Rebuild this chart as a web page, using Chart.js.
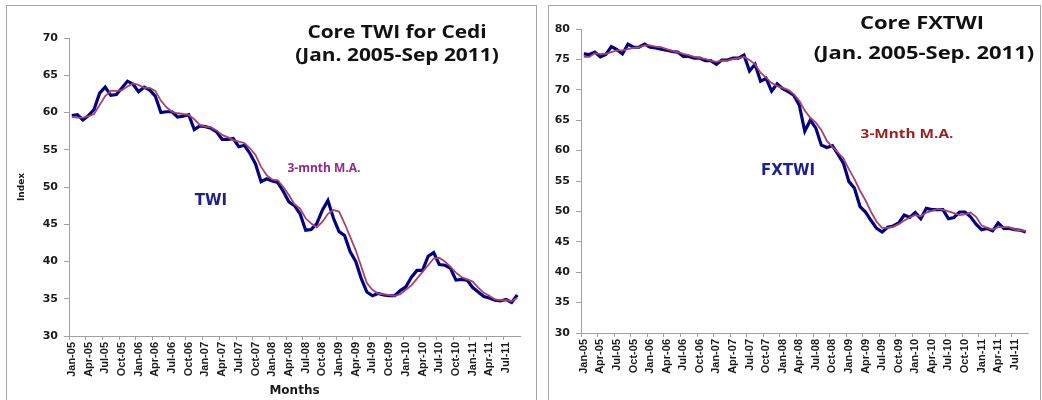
<!DOCTYPE html>
<html>
<head>
<meta charset="utf-8">
<script src="https://cdn.jsdelivr.net/npm/chart.js@4.4.1/dist/chart.umd.min.js"></script>
<style>
  html, body { margin: 0; padding: 0; background: #fff; }
  body { width: 1042px; height: 400px; position: relative; overflow: hidden; }
  .panel { position: absolute; border: 1px solid #a6a6a6; box-sizing: border-box; }
  canvas { position: absolute; }
  .lbl { position: absolute; transform: translate(-50%, -50%); white-space: nowrap; font-weight: bold; }
  .ttl { font-family: "Open Sans", sans-serif; font-size: 18px; color: #111; }
</style>
</head>
<body>
<div class="panel" style="left:6px;top:5px;width:531px;height:420px;"></div>
<div class="panel" style="left:548px;top:5px;width:493px;height:420px;"></div>
<canvas id="c1" width="528" height="394" style="left:7px;top:6px;"></canvas>
<canvas id="c2" width="492" height="394" style="left:549px;top:6px;"></canvas>

<div class="lbl ttl" style="left:397px;top:31px;transform:translate(-50%,-50%) scaleX(1.16);">Core TWI for Cedi</div>
<div class="lbl ttl" style="left:397px;top:54px;transform:translate(-50%,-50%) scaleX(1.16);">(Jan. 2005-Sep 2011)</div>
<div class="lbl" style="left:324px;top:167px;font-family:'Open Sans',sans-serif;font-size:12px;color:#93278f;">3-mnth M.A.</div>
<div class="lbl" style="left:211px;top:200px;font-family:'DejaVu Sans',sans-serif;font-size:15px;color:#1f1f8f;">TWI</div>

<div class="lbl ttl" style="left:922px;top:22px;transform:translate(-50%,-50%) scaleX(1.22);">Core FXTWI</div>
<div class="lbl ttl" style="left:924px;top:52px;transform:translate(-50%,-50%) scaleX(1.22);">(Jan. 2005-Sep. 2011)</div>
<div class="lbl" style="left:907px;top:133px;font-family:'Open Sans',sans-serif;font-size:13px;color:#9b1f1f;transform:translate(-50%,-50%) scaleX(1.18);">3-Mnth M.A.</div>
<div class="lbl" style="left:788px;top:170px;font-family:'DejaVu Sans',sans-serif;font-size:15px;color:#1f1f8f;">FXTWI</div>

<script>
const months = [
  "Jan-05","Feb-05","Mar-05","Apr-05","May-05","Jun-05","Jul-05","Aug-05","Sep-05","Oct-05","Nov-05","Dec-05",
  "Jan-06","Feb-06","Mar-06","Apr-06","May-06","Jun-06","Jul-06","Aug-06","Sep-06","Oct-06","Nov-06","Dec-06",
  "Jan-07","Feb-07","Mar-07","Apr-07","May-07","Jun-07","Jul-07","Aug-07","Sep-07","Oct-07","Nov-07","Dec-07",
  "Jan-08","Feb-08","Mar-08","Apr-08","May-08","Jun-08","Jul-08","Aug-08","Sep-08","Oct-08","Nov-08","Dec-08",
  "Jan-09","Feb-09","Mar-09","Apr-09","May-09","Jun-09","Jul-09","Aug-09","Sep-09","Oct-09","Nov-09","Dec-09",
  "Jan-10","Feb-10","Mar-10","Apr-10","May-10","Jun-10","Jul-10","Aug-10","Sep-10","Oct-10","Nov-10","Dec-10",
  "Jan-11","Feb-11","Mar-11","Apr-11","May-11","Jun-11","Jul-11","Aug-11","Sep-11"
];

const twi = [
  59.6, 59.7, 59.0, 59.6, 60.4, 62.6, 63.4, 62.3, 62.4, 63.3, 64.2, 63.8,
  62.8, 63.4, 63.0, 62.2, 60.0, 60.1, 60.1, 59.4, 59.5, 59.7, 57.7, 58.2,
  58.1, 57.9, 57.4, 56.4, 56.4, 56.5, 55.4, 55.6, 54.5, 53.1, 50.7, 51.1,
  50.8, 50.6, 49.4, 48.0, 47.5, 46.4, 44.2, 44.3, 45.1, 46.9, 48.2, 45.8,
  44.0, 43.5, 41.3, 40.0, 37.7, 35.9, 35.4, 35.7, 35.5, 35.4, 35.4, 36.1,
  36.6, 37.9, 38.8, 38.8, 40.7, 41.2, 39.6, 39.5, 39.1, 37.5, 37.6, 37.5,
  36.5, 35.9, 35.3, 35.1, 34.8, 34.7, 34.9, 34.5, 35.5
];
const twiMA = [
  59.4, 59.3, 59.3, 59.5, 59.8, 61.0, 62.2, 62.9, 62.9, 63.0, 63.5, 63.9,
  63.7, 63.3, 63.3, 62.9, 61.6, 60.7, 60.1, 59.9, 59.8, 59.7, 59.1, 58.3,
  58.1, 58.0, 57.6, 57.0, 56.7, 56.3, 56.1, 55.9, 55.2, 54.3, 52.7, 51.6,
  51.0, 50.9, 50.0, 48.9, 47.7, 47.1, 45.8, 45.1, 44.6, 45.3, 46.4, 46.9,
  46.7, 45.1, 43.3, 41.5, 39.3, 37.1, 36.2, 35.7, 35.6, 35.5, 35.4, 35.6,
  36.2, 36.8, 37.7, 38.6, 39.5, 40.4, 40.5, 40.0, 39.3, 38.5, 37.9, 37.6,
  37.3, 36.5, 35.8, 35.4, 34.9, 34.8, 34.8, 34.7, 35.1
];
const fxtwi = [
  75.9, 75.8, 76.2, 75.4, 75.8, 77.1, 76.6, 75.9, 77.5, 77.0, 77.0, 77.5,
  77.0, 76.9, 76.7, 76.5, 76.3, 76.2, 75.5, 75.5, 75.2, 75.2, 74.8, 74.8,
  74.2, 74.9, 74.9, 75.2, 75.2, 75.7, 73.1, 74.2, 71.4, 71.9, 69.8, 71.0,
  70.2, 69.7, 69.1, 67.5, 63.2, 65.0, 63.7, 60.9, 60.5, 60.8, 59.4, 57.9,
  54.9, 53.8, 50.8, 49.9, 48.5, 47.2, 46.6, 47.4, 47.6, 48.1, 49.4, 49.0,
  49.8, 48.8, 50.5, 50.3, 50.3, 50.3, 48.8, 49.0, 49.9, 49.9, 49.1, 47.9,
  47.0, 47.2, 46.8, 48.1, 47.2, 47.2, 47.0, 46.9, 46.6
];
const fxtwiMA = [
  75.4, 75.4, 76.0, 75.9, 75.9, 76.2, 76.5, 76.5, 76.7, 76.9, 77.0, 77.3,
  77.3, 77.1, 77.0, 76.7, 76.4, 76.2, 75.9, 75.7, 75.4, 75.2, 75.1, 74.8,
  74.6, 74.8, 74.8, 75.1, 75.2, 75.4, 74.9, 74.2, 72.8, 72.0, 71.1, 70.6,
  70.3, 70.0, 69.3, 68.2, 66.6, 65.4, 64.6, 63.4, 61.6, 60.6, 59.7, 58.7,
  56.9, 55.3, 53.4, 51.8, 49.9, 48.3, 47.3, 47.3, 47.5, 47.9, 48.5, 49.0,
  49.4, 49.2, 49.8, 50.1, 50.4, 50.3, 50.0, 49.7, 49.4, 49.5, 49.8, 49.1,
  47.7, 47.3, 47.0, 47.4, 47.4, 47.4, 47.0, 46.9, 46.8
];

const leftTicks = { min: 30, max: 70, step: 5 };
const rightTicks = { min: 30, max: 80, step: 5 };

const NAVY = '#000080';
const MA_COL = '#a8436f';
const AXIS = '#a0a0a0';

function makeChart(id, main, ma, yt, lay) {
  return new Chart(document.getElementById(id), {
    type: 'line',
    data: {
      labels: months,
      datasets: [
        { data: ma, borderColor: MA_COL, borderWidth: 1.8, pointRadius: 0, tension: 0, order: 0 },
        { data: main, borderColor: NAVY, borderWidth: 3.2, pointRadius: 0, tension: 0, order: 1 }
      ]
    },
    options: {
      responsive: false,
      animation: false,
      events: [],
      layout: { padding: { top: lay.top, right: lay.right, left: 0, bottom: 0 } },
      plugins: { legend: { display: false }, tooltip: { enabled: false } },
      scales: {
        x: {
          type: 'category',
          offset: true,
          afterFit(s) { s.height = lay.xh; },
          border: { display: true, color: AXIS, width: 1 },
          grid: {
            offset: true,
            drawOnChartArea: false,
            tickLength: 4,
            color: (c) => (c.index !== undefined && c.index % 3 === 0) ? AXIS : 'rgba(0,0,0,0)'
          },
          ticks: {
            autoSkip: false,
            maxRotation: 90,
            minRotation: 90,
            padding: 2,
            color: '#1a1a1a',
            font: { family: 'Liberation Sans', size: 11, weight: 'bold' },
            callback: function (v, i) { return i % 3 === 0 ? months[i] : ''; }
          },
          title: lay.xTitle ? {
            display: true, text: lay.xTitle, color: '#1a1a1a',
            font: { family: 'DejaVu Sans', size: 12, weight: 'bold' },
            padding: { top: 0, bottom: 2 }
          } : { display: false }
        },
        y: {
          min: yt.min, max: yt.max,
          afterFit(s) { s.width = lay.yw; },
          border: { display: true, color: AXIS, width: 1 },
          grid: { drawOnChartArea: false, tickLength: 5, color: AXIS },
          ticks: {
            stepSize: yt.step,
            padding: 6,
            color: '#1a1a1a',
            font: { family: 'DejaVu Sans', size: 11, weight: 'bold' }
          },
          title: lay.yTitle ? {
            display: true, text: lay.yTitle, color: '#1a1a1a',
            font: { family: 'DejaVu Sans', size: 9, weight: 'bold' },
            padding: { top: 9, bottom: 0 }
          } : { display: false }
        }
      }
    }
  });
}

makeChart('c1', twi, twiMA, leftTicks, { top: 32, right: 15, xh: 64, yw: 62, xTitle: 'Months', yTitle: 'Index' });
makeChart('c2', fxtwi, fxtwiMA, rightTicks, { top: 23, right: 4, xh: 67, yw: 32 });
</script>
</body>
</html>
